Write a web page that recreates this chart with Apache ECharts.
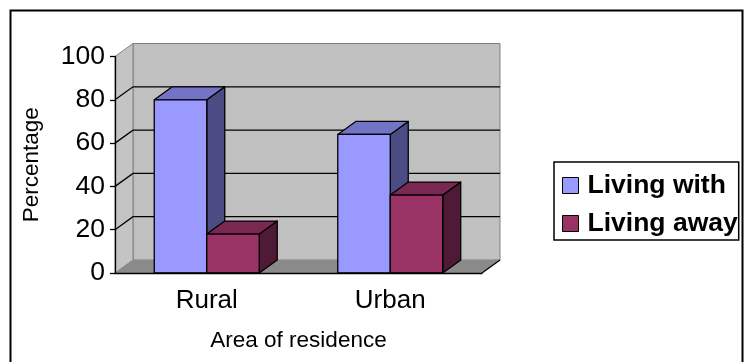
<!DOCTYPE html>
<html>
<head>
<meta charset="utf-8">
<script src="https://cdn.jsdelivr.net/npm/echarts@6/dist/echarts.min.js"></script>
<style>
  html, body { margin: 0; padding: 0; background: #fff; }
  #chart { width: 748px; height: 362px; }
</style>
</head>
<body>
<div id="chart"></div>
<script>
// Share of respondents by area of residence
const categories = ['Rural', 'Urban'];
const seriesNames = ['Living with', 'Living away'];
const livingWith = [80, 64];
const livingAway = [18, 36];
const yTicks = [0, 20, 40, 60, 80, 100];

// Oblique depth of the 3-D box (pixels)
const DX = 18, DY = -13;
const BAR_FRAC = 0.286;

const faces = [
  { front: '#9999ff', top: '#7474c6', side: '#4c4c84' },
  { front: '#993366', top: '#7a2852', side: '#4e1a35' }
];

function frameItem(params, api) {
  const cs = params.coordSys;
  const x0 = cs.x, x1 = cs.x + cs.width;
  const yB = api.coord([0, yTicks[0]])[1];
  const yT = api.coord([0, yTicks[yTicks.length - 1]])[1];
  const children = [];
  // back wall
  children.push({ type: 'polygon', shape: { points: [[x0 + DX, yT + DY], [x1 + DX, yT + DY], [x1 + DX, yB + DY], [x0 + DX, yB + DY]] },
    style: { fill: '#c0c0c0', stroke: '#808080', lineWidth: 1 } });
  // left side wall
  children.push({ type: 'polygon', shape: { points: [[x0, yT], [x0 + DX, yT + DY], [x0 + DX, yB + DY], [x0, yB]] },
    style: { fill: '#c4c4c4', stroke: '#808080', lineWidth: 1 } });
  // floor
  children.push({ type: 'polygon', shape: { points: [[x0, yB], [x0 + DX, yB + DY], [x1 + DX, yB + DY], [x1, yB]] },
    style: { fill: '#8a8a8a', stroke: null } });
  // gridlines on back and side walls
  yTicks.slice(1, -1).forEach(function (v) {
    const y = api.coord([0, v])[1];
    children.push({ type: 'polyline', shape: { points: [[x0, y], [x0 + DX, y + DY], [x1 + DX, y + DY]] },
      style: { fill: null, stroke: '#000', lineWidth: 1.3 } });
  });
  // right floor edge
  children.push({ type: 'line', shape: { x1: x1, y1: yB, x2: x1 + DX, y2: yB + DY },
    style: { stroke: '#000', lineWidth: 1.3 } });
  return { type: 'group', children: children };
}

function barItem(slot) {
  return function (params, api) {
    const ci = api.value(0), v = api.value(1);
    const top = api.coord([ci, v]);
    const base = api.coord([ci, 0]);
    const band = api.size([1, 0])[0];
    const w = band * BAR_FRAC;
    const l = top[0] + (slot === 0 ? -w : 0);
    const r = l + w;
    const yt = top[1], yb = base[1];
    const f = faces[slot];
    const line = { stroke: '#000', lineWidth: 1.3, lineJoin: 'round' };
    return {
      type: 'group',
      children: [
        { type: 'polygon', shape: { points: [[r, yt], [r + DX, yt + DY], [r + DX, yb + DY], [r, yb]] },
          style: Object.assign({ fill: f.side }, line) },
        { type: 'polygon', shape: { points: [[l, yt], [l + DX, yt + DY], [r + DX, yt + DY], [r, yt]] },
          style: Object.assign({ fill: f.top }, line) },
        { type: 'rect', shape: { x: l, y: yt, width: w, height: yb - yt },
          style: Object.assign({ fill: f.front }, line) }
      ]
    };
  };
}

const chart = echarts.init(document.getElementById('chart'), null, { renderer: 'canvas' });
chart.setOption({
  animation: false,
  backgroundColor: '#fff',
  textStyle: { fontFamily: 'Liberation Sans, Arial, sans-serif', color: '#000' },
  grid: { left: 115, right: 266, top: 56.5, bottom: 89 },
  graphic: [{
    type: 'rect', left: 8, top: 8, z: 100, silent: true,
    shape: { width: 732, height: 370 },
    style: { fill: null, stroke: '#000', lineWidth: 2 }
  }],
  legend: {
    orient: 'vertical', left: 554, top: 162,
    data: seriesNames,
    icon: 'rect', itemWidth: 16, itemHeight: 16, itemGap: 11,
    padding: [10, 1, 3, 8],
    borderColor: '#000', borderWidth: 1.5,
    itemStyle: { borderColor: '#000', borderWidth: 1 },
    textStyle: { fontSize: 26.5, fontWeight: 'bold', color: '#000', padding: [0, 0, 0, 4],
      fontFamily: 'Liberation Sans, Arial, sans-serif' }
  },
  xAxis: {
    type: 'category', data: categories, z: 10,
    name: 'Area of residence', nameLocation: 'middle', nameGap: 56,
    nameTextStyle: { fontSize: 22.5, color: '#000' },
    axisLine: { lineStyle: { color: '#000', width: 1.3 } },
    axisTick: { length: 7, lineStyle: { color: '#000', width: 1.3 } },
    axisLabel: { fontSize: 26, color: '#000', margin: 15 },
    splitLine: { show: false }
  },
  yAxis: {
    type: 'value', min: 0, max: 100, interval: 20, z: 10,
    name: 'Percentage', nameLocation: 'middle', nameGap: 72, nameRotate: 90,
    nameTextStyle: { fontSize: 22.5, color: '#000' },
    axisLine: { show: true, lineStyle: { color: '#000', width: 1.3 } },
    axisTick: { show: true, length: 5, lineStyle: { color: '#000', width: 1.3 } },
    axisLabel: { fontSize: 26.5, color: '#000', margin: 10 },
    splitLine: { show: false }
  },
  series: [
    {
      type: 'custom', name: 'frame', z: 1, clip: false, silent: true,
      renderItem: frameItem, data: [[0, 0]], encode: { x: 0, y: 1 }
    },
    {
      type: 'custom', name: seriesNames[0], z: 2, clip: false,
      itemStyle: { color: faces[0].front, borderColor: '#000', borderWidth: 1 },
      renderItem: barItem(0), data: livingWith.map(function (v, i) { return [i, v]; }),
      encode: { x: 0, y: 1 }
    },
    {
      type: 'custom', name: seriesNames[1], z: 3, clip: false,
      itemStyle: { color: faces[1].front, borderColor: '#000', borderWidth: 1 },
      renderItem: barItem(1), data: livingAway.map(function (v, i) { return [i, v]; }),
      encode: { x: 0, y: 1 }
    }
  ]
});
</script>
</body>
</html>
